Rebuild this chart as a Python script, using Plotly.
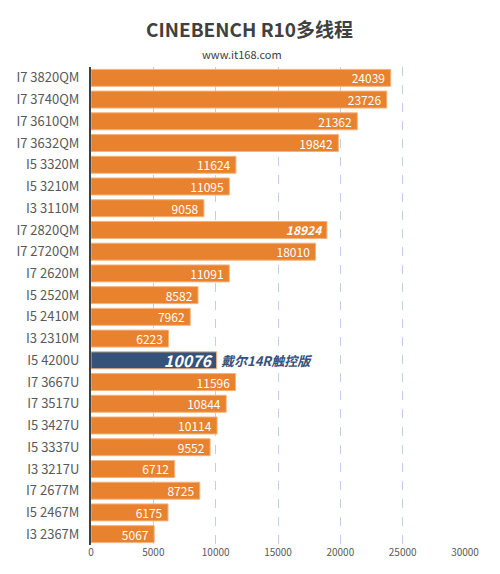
import plotly.graph_objects as go

categories = ["I7 3820QM", "I7 3740QM", "I7 3610QM", "I7 3632QM", "I5 3320M", "I5 3210M",
              "I3 3110M", "I7 2820QM", "I7 2720QM", "I7 2620M", "I5 2520M", "I5 2410M",
              "I3 2310M", "I5 4200U", "I7 3667U", "I7 3517U", "I5 3427U", "I5 3337U",
              "I3 3217U", "I7 2677M", "I5 2467M", "I3 2367M"]
values = [24039, 23726, 21362, 19842, 11624, 11095, 9058, 18924, 18010, 11091, 8582, 7962,
          6223, 10076, 11596, 10844, 10114, 9552, 6712, 8725, 6175, 5067]
highlight = "I5 4200U"
highlight_note = "戴尔14R触控版"
italic_label = "I7 2820QM"
x_ticks = [0, 5000, 10000, 15000, 20000, 25000, 30000]

ORANGE = "#E8822E"
NAVY = "#34527A"

colors = [NAVY if c == highlight else ORANGE for c in categories]
texts = []
sizes = []
for c, v in zip(categories, values):
    if c == highlight:
        texts.append(f"<b><i>{v}</i></b>")
        sizes.append(16)
    elif c == italic_label:
        texts.append(f"<b><i>{v}</i></b>&nbsp;")
        sizes.append(12)
    else:
        texts.append(f"{v}&nbsp;")
        sizes.append(12)

FONT = "Noto Sans CJK SC"

fig = go.Figure()
fig.add_trace(go.Bar(
    y=categories, x=values, orientation="h",
    marker=dict(color=colors, line=dict(color="#F3B27A", width=1)),
    width=0.78,
    text=texts, textposition="inside", insidetextanchor="end", constraintext="none",
    textfont=dict(color="white", size=sizes, family=FONT),
    cliponaxis=False, hoverinfo="skip",
))

hi_val = values[categories.index(highlight)]
fig.add_annotation(x=hi_val, y=highlight, xref="x", yref="y", text=f"<b><i>{highlight_note}</i></b>",
                   showarrow=False, xanchor="left", xshift=2,
                   font=dict(color=NAVY, size=13, family=FONT))

fig.add_annotation(x=0.5, y=1, xref="paper", yref="paper", yanchor="bottom", yshift=23,
                   text="<b>CINEBENCH R10多线程</b>", showarrow=False,
                   font=dict(size=19, color="#404040", family=FONT), xshift=-29)
fig.add_annotation(x=0.5, y=1, xref="paper", yref="paper", yanchor="bottom", yshift=3,
                   text="www.it168.com", showarrow=False,
                   font=dict(size=11, color="#404040", family=FONT), xshift=-36)

fig.update_layout(
    width=492, height=566,
    margin=dict(l=83, r=35, t=59, b=29),
    paper_bgcolor="white", plot_bgcolor="white",
    showlegend=False,
    font=dict(family=FONT),
)
fig.update_xaxes(range=[0, 30000], tickvals=x_ticks, ticktext=[str(t) for t in x_ticks],
                 showgrid=True, gridcolor="#BFD0EA", griddash="dash", gridwidth=1,
                 zeroline=False, showline=False, ticks="", automargin=False,
                 tickfont=dict(size=10, color="#595959", family=FONT))
fig.update_yaxes(autorange="reversed", showline=True, linecolor="#404040", linewidth=2,
                 ticks="", showgrid=False, automargin=False,
                 tickfont=dict(size=13, color="#595959", family=FONT), ticklabelstandoff=7)

fig.write_html("out.html")
